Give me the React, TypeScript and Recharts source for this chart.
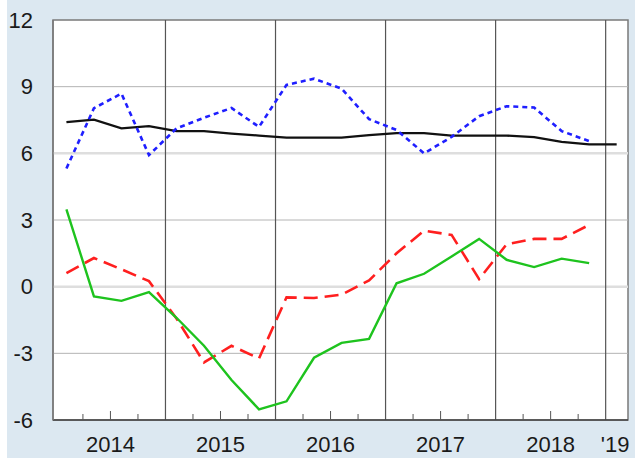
/*
  Quarterly indicator chart (Recharts)
  Four quarterly series, 2014Q1–2019Q1. Year boundaries are dark vertical rules,
  quarters get small inward ticks on the bottom axis, year labels sit mid-year.
*/

import { CartesianGrid, Line, LineChart, ReferenceArea, ReferenceLine, XAxis, YAxis } from 'recharts'

const quarters = [
  '2014Q1', '2014Q2', '2014Q3', '2014Q4',
  '2015Q1', '2015Q2', '2015Q3', '2015Q4',
  '2016Q1', '2016Q2', '2016Q3', '2016Q4',
  '2017Q1', '2017Q2', '2017Q3', '2017Q4',
  '2018Q1', '2018Q2', '2018Q3', '2018Q4',
  '2019Q1',
]

// solid black, runs one quarter further than the others
const blackSeries = [7.4, 7.52, 7.12, 7.22, 7.0, 7.0, 6.89, 6.8, 6.71, 6.71, 6.71, 6.82, 6.91, 6.91, 6.8, 6.8, 6.8, 6.73, 6.52, 6.4, 6.4]
// short blue dashes
const blueSeries = [5.32, 8.03, 8.69, 5.92, 7.12, 7.6, 8.04, 7.19, 9.08, 9.36, 8.91, 7.54, 7.05, 6.0, 6.74, 7.67, 8.12, 8.06, 7.0, 6.55]
// long red dashes
const redSeries = [0.61, 1.29, 0.78, 0.25, -1.43, -3.41, -2.66, -3.23, -0.48, -0.51, -0.36, 0.28, 1.5, 2.52, 2.33, 0.34, 1.91, 2.15, 2.15, 2.78]
// solid green
const greenSeries = [3.48, -0.44, -0.64, -0.24, -1.4, -2.66, -4.2, -5.52, -5.16, -3.2, -2.53, -2.35, 0.15, 0.58, 1.36, 2.15, 1.21, 0.88, 1.26, 1.06]

const yearLabels = ['2014', '2015', '2016', '2017', '2018', "'19"]
const yTicks = [-6, -3, 0, 3, 6, 9, 12]
const faintRows = [-3, 3, 9]     // thin grey rules
const strongRows = [0, 6]        // wide pale rules

// quarter '2015Q3' -> position on a continuous year axis (slightly before mid-quarter, as in the source)
function quarterPos(q: string): number {
  const year = Number(q.slice(0, 4))
  const n = Number(q.slice(5))
  return year + (n - 1) / 4 + 0.1
}

const data = quarters.map((q, i) => ({
  t: quarterPos(q),
  black: blackSeries[i],
  blue: blueSeries[i],
  red: redSeries[i],
  green: greenSeries[i],
}))

const firstYear = Number(yearLabels[0])
const years = yearLabels.map((_, i) => firstYear + i)
const xDomain: [number, number] = [firstYear - 0.022, years[years.length - 1] + 0.203]

// tick values: quarter boundaries inside each full year, plus the label spot for the partial last year
const quarterTicks: number[] = []
years.slice(0, -1).forEach(y => quarterTicks.push(y + 0.25, y + 0.5, y + 0.75))
const lastLabelPos = years[years.length - 1] + 0.086
const xTicks = [...quarterTicks, lastLabelPos]

const FONT = '"Liberation Sans", Arial, Helvetica, sans-serif'
const TICK_MARGIN = 16

function QuarterTick(props: any) {
  const { x, y, payload } = props
  const v: number = payload.value
  const bottom = y - TICK_MARGIN
  const frac = Math.round((v - Math.floor(v)) * 100) / 100
  const isMid = frac === 0.5
  const isLast = Math.abs(v - lastLabelPos) < 1e-6
  let label: string | null = null
  if (isMid) label = yearLabels[Math.floor(v) - firstYear]
  if (isLast) label = yearLabels[yearLabels.length - 1]
  return (
    <g>
      {!isLast && <line x1={x} x2={x} y1={bottom} y2={bottom - (isMid ? 9 : 6)} stroke="#555" strokeWidth={1} />}
      {label && (
        <text x={x} y={y} dy="0.71em" textAnchor="middle" fill="#1a1a1a" fontSize={22} fontFamily={FONT}>
          {label}
        </text>
      )}
    </g>
  )
}

export default function App() {
  return (
    <div style={{ position: 'absolute', left: 0, top: 0, width: 635, height: 458, background: '#fff' }}>
      <div style={{ position: 'absolute', left: 7, top: 0, width: 628, height: 458, background: '#dce8f1' }} />
      <div style={{ position: 'absolute', left: 0, top: 0 }}>
        <LineChart width={635} height={458} data={data} margin={{ top: 20, right: 7, bottom: 0, left: 0 }}>
          <ReferenceArea y1={-6} y2={12} fill="#fff" fillOpacity={1} stroke="#7a7a7a" strokeWidth={1.5} />
          <CartesianGrid horizontal={false} vertical={false} />
          {faintRows.map(v => <ReferenceLine key={'f' + v} y={v} stroke="#b4b4b4" strokeWidth={1} />)}
          {strongRows.map(v => <ReferenceLine key={'s' + v} y={v} stroke="#dedede" strokeWidth={2.5} />)}
          {years.slice(1).map(y => <ReferenceLine key={'y' + y} x={y} stroke="#555" strokeWidth={1.2} />)}
          <XAxis
            dataKey="t"
            type="number"
            domain={xDomain}
            allowDataOverflow
            ticks={xTicks}
            interval={0}
            height={38}
            tickSize={0}
            tickMargin={TICK_MARGIN}
            tickLine={false}
            axisLine={{ stroke: '#444', strokeWidth: 1.5 }}
            tick={(p: any) => <QuarterTick {...p} />}
          />
          <YAxis
            type="number"
            domain={[-6, 12]}
            ticks={yTicks}
            interval={0}
            width={53}
            tickSize={0}
            tickMargin={20}
            tickLine={false}
            axisLine={{ stroke: '#7a7a7a', strokeWidth: 1.5 }}
            tick={{ fontSize: 22, fill: '#1a1a1a', fontFamily: FONT }}
          />
          <Line type="linear" dataKey="black" stroke="#111" strokeWidth={2.3} dot={false} isAnimationActive={false} />
          <Line type="linear" dataKey="blue" stroke="#1f1fff" strokeWidth={2.6} strokeDasharray="5 4" dot={false} isAnimationActive={false} />
          <Line type="linear" dataKey="red" stroke="#ff1f1f" strokeWidth={2.6} strokeDasharray="14 7" dot={false} isAnimationActive={false} />
          <Line type="linear" dataKey="green" stroke="#1ec31e" strokeWidth={2.4} dot={false} isAnimationActive={false} />
        </LineChart>
      </div>
    </div>
  )
}
